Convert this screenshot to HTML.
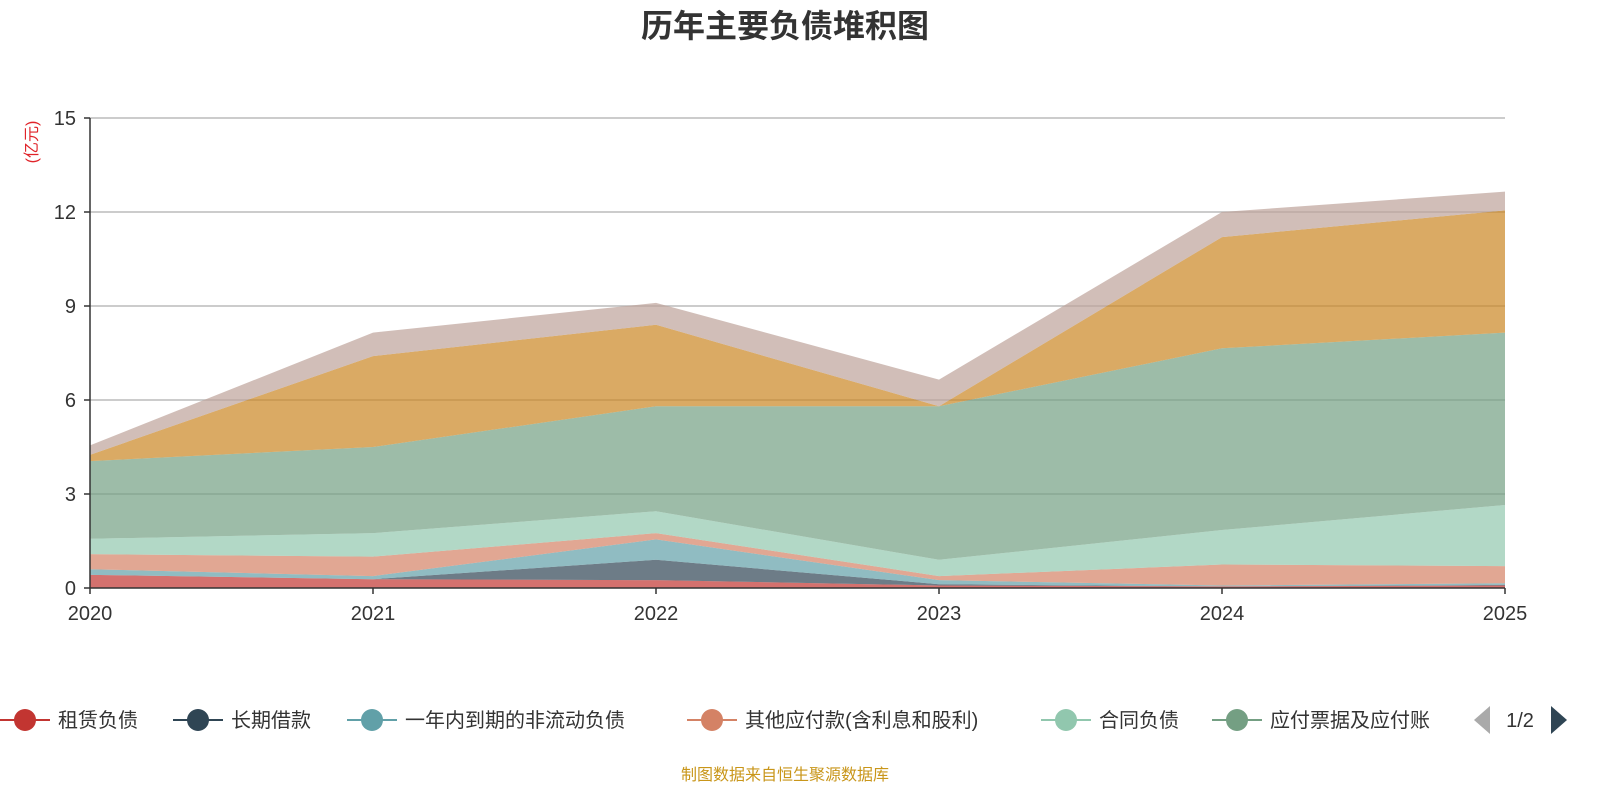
<!DOCTYPE html>
<html><head><meta charset="utf-8"><style>
body{margin:0;background:#fff;font-family:"Liberation Sans","Noto Sans CJK SC",sans-serif}
</style></head><body>
<svg id="c" width="1600" height="800" xmlns="http://www.w3.org/2000/svg">
<text x="785" y="37" text-anchor="middle" font-size="32" font-weight="bold" fill="#333" font-family="Liberation Sans, Noto Sans CJK SC, sans-serif">历年主要负债堆积图</text>
<text transform="translate(37,142) rotate(-90)" text-anchor="middle" font-size="16" fill="#e0242a" font-family="Liberation Sans, Noto Sans CJK SC, sans-serif">(亿元)</text>
<g id="grid"></g><g id="areas"></g><g id="axes"></g><g id="legend"></g>
<text x="785" y="780" text-anchor="middle" font-size="16" fill="#c9961a" font-family="Liberation Sans, Noto Sans CJK SC, sans-serif">制图数据来自恒生聚源数据库</text>
</svg>
<script>
const years=["2020","2021","2022","2023","2024","2025"];
const yTicks=[0,3,6,9,12,15];
const seriesNames=["租赁负债","长期借款","一年内到期的非流动负债","其他应付款(含利息和股利)","合同负债","应付票据及应付账款","短期借款","应交税费"];
const s1=[0.42,0.28,0.25,0.08,0.05,0.08];
const s2=[0.0,0.0,0.65,0.04,0.0,0.02];
const s3=[0.18,0.10,0.65,0.13,0.03,0.05];
const s4=[0.48,0.62,0.20,0.13,0.67,0.55];
const s5=[0.49,0.75,0.70,0.52,1.10,1.95];
const s6=[2.48,2.75,3.35,4.90,5.80,5.50];
const s7=[0.20,2.90,2.60,0.00,3.55,3.90];
const s8=[0.30,0.75,0.70,0.85,0.80,0.60];
const series=[s1,s2,s3,s4,s5,s6,s7,s8];
const colors=["#c23531","#2f4554","#61a0a8","#d48265","#91c7ae","#749f83","#ca8622","#bda29a"];
const NS="http://www.w3.org/2000/svg";
const x0=90,x1=1505,y0=588,y1=118,ymax=15;
const X=i=>x0+(x1-x0)*i/(years.length-1);
const Y=v=>y0-(y0-y1)*v/ymax;
function mk(t,a,p){const e=document.createElementNS(NS,t);for(const k in a)e.setAttribute(k,a[k]);p.appendChild(e);return e;}
const grid=document.getElementById('grid'),axes=document.getElementById('axes'),areas=document.getElementById('areas'),leg=document.getElementById('legend');
yTicks.forEach(v=>{
 if(v>0){const l=mk('line',{x1:x0,x2:x1,y1:Y(v),y2:Y(v),stroke:'#bbb','stroke-width':1.5},grid);
 
 }
 const tk=mk('line',{x1:x0-6,x2:x0,y1:Y(v),y2:Y(v),stroke:'#333','stroke-width':1.5},axes);
 
 
 const t=mk('text',{x:x0-14,y:Y(v)+7,'text-anchor':'end','font-size':20,fill:'#333'},axes);t.textContent=v;
 
 
});
let base=years.map(()=>0);
series.forEach((s,k)=>{
 const top=base.map((b,i)=>b+s[i]);
 let d='M'+top.map((v,i)=>X(i)+','+Y(v)).join(' L');
 for(let i=years.length-1;i>=0;i--)d+=' L'+X(i)+','+Y(base[i]);
 const p=mk('path',{d:d+'Z',fill:colors[k],'fill-opacity':0.7},areas);
 
 
 base=top;
});
const ya=mk('line',{x1:x0,x2:x0,y1:y1,y2:y0,stroke:'#333','stroke-width':1.5},axes);


const xa=mk('line',{x1:x0,x2:x1,y1:y0,y2:y0,stroke:'#333','stroke-width':1.5},axes);


years.forEach((y,i)=>{
 const tk=mk('line',{x1:X(i),x2:X(i),y1:y0,y2:y0+6,stroke:'#333','stroke-width':1.5},axes);
 
 
 const t=mk('text',{x:X(i),y:y0+32,'text-anchor':'middle','font-size':20,fill:'#333'},axes);t.textContent=y;
 
 
});
const legX=[0,173,347,687,1041,1212];
const legendNames=["租赁负债","长期借款","一年内到期的非流动负债","其他应付款(含利息和股利)","合同负债","应付票据及应付账"];
legendNames.forEach((n,k)=>{
 const g=mk('g',{},leg);
 
 
 const lx=legX[k];
 mk('line',{x1:lx,x2:lx+50,y1:720,y2:720,stroke:colors[k],'stroke-width':2},g);
 mk('circle',{cx:lx+25,cy:720,r:11,fill:colors[k]},g);
 const t=mk('text',{x:lx+58,y:727,'font-size':20,fill:'#333'},g);t.textContent=n;
});
const pl=mk('path',{d:'M1490,706 L1474,720 L1490,734Z',fill:'#aaa'},leg);


const pt=mk('text',{x:1520,y:727,'text-anchor':'middle','font-size':20,fill:'#333'},leg);pt.textContent='1/2';


const pn=mk('path',{d:'M1551,706 L1567,720 L1551,734Z',fill:'#2f4554'},leg);


</script>
</body></html>
